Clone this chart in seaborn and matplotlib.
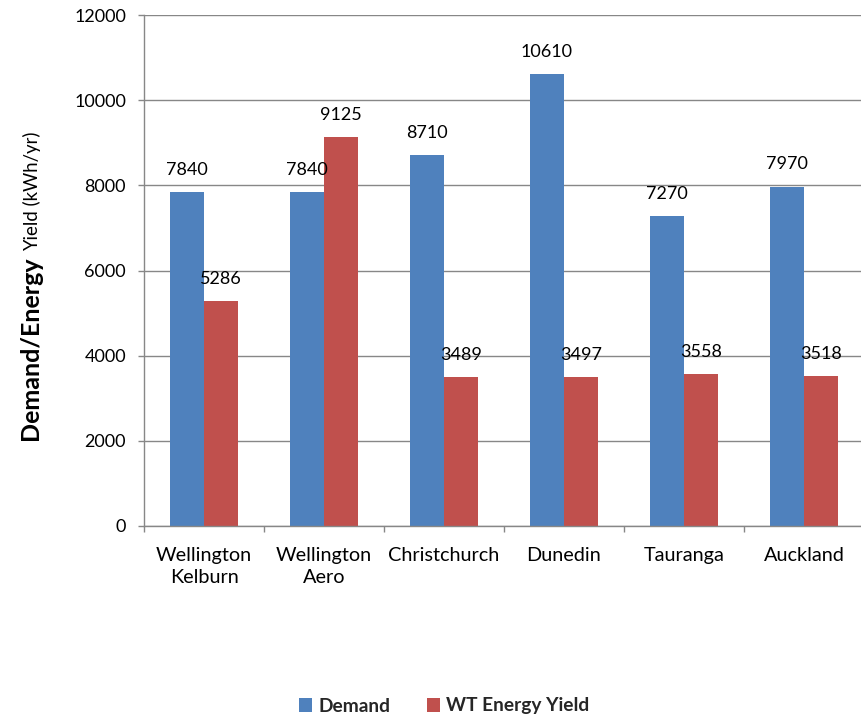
import matplotlib
matplotlib.use("Agg")
import matplotlib.pyplot as plt
import seaborn as sns
import pandas as pd
from matplotlib.patches import Patch

# Sites and annual values (kWh/yr)
sites = ["Wellington\nKelburn", "Wellington\nAero", "Christchurch", "Dunedin", "Tauranga", "Auckland"]
demand = [7840, 7840, 8710, 10610, 7270, 7970]
wt_yield = [5286, 9125, 3489, 3497, 3558, 3518]
series = ["Demand", "WT Energy Yield"]
colors = ["#4F81BD", "#C0504D"]
y_ticks = [0, 2000, 4000, 6000, 8000, 10000, 12000]

sns.set_theme(style="white")
plt.rcParams["font.family"] = ["Lato", "DejaVu Sans"]

df = pd.DataFrame({
    "site": sites * 2,
    "series": [series[0]] * len(sites) + [series[1]] * len(sites),
    "value": demand + wt_yield,
})

fig = plt.figure(figsize=(8.61, 7.18), dpi=100)
ax = fig.add_axes([144 / 861, 1 - 526 / 718, 720 / 861, 511 / 718])

sns.barplot(data=df, x="site", y="value", hue="series", order=sites,
            hue_order=series, palette=colors, width=0.567, gap=0,
            saturation=1, linewidth=0, ax=ax, legend=False, errorbar=None)

grid_c = "#878787"
ax.set_ylim(0, 12000)
ax.set_xlim(-0.5, len(sites) - 0.5)
ax.set_yticks(y_ticks)
ax.set_yticklabels([str(t) for t in y_ticks], fontsize=13, color="#000000")
ax.yaxis.grid(True, color=grid_c, linewidth=1.0)
ax.set_axisbelow(True)
for side in ["top", "right"]:
    ax.spines[side].set_visible(False)
for side in ["left", "bottom"]:
    ax.spines[side].set_color(grid_c)
    ax.spines[side].set_linewidth(1.0)

ax.tick_params(axis="y", which="major", direction="out", length=4.3, width=1.0,
               color=grid_c, pad=8.6, left=True)
ax.set_xticks(range(len(sites)))
ax.set_xticklabels(sites, fontsize=14.3, color="#000000", linespacing=1.4)
ax.tick_params(axis="x", which="major", length=0, pad=15)
ax.set_xticks([i - 0.5 for i in range(len(sites) + 1)], minor=True)
ax.tick_params(axis="x", which="minor", direction="out", length=4.3, width=1.0,
               color=grid_c, bottom=True)
ax.set_xlabel("")
ax.set_ylabel("")

# Value labels above each bar
for cont, vals in zip(ax.containers, [demand, wt_yield]):
    for patch, v in zip(cont.patches, vals):
        ax.annotate(str(v), (patch.get_x() + patch.get_width() / 2, v),
                    xytext=(0, 16), textcoords="offset points",
                    ha="center", va="center", fontsize=13, color="#000000")

# Y axis title in two styles
x_base = 38 / 861
y_start = 1 - 440 / 718
t1 = fig.text(x_base, y_start, "Demand/Energy", rotation=90, rotation_mode="anchor",
              ha="left", va="baseline", fontsize=18, fontweight="bold", color="#000000")
fig.canvas.draw()
bb = t1.get_window_extent()
y_next = (bb.y1 + 5) / fig.bbox.height
fig.text(x_base, y_next, "Yield (kWh/yr)", rotation=90, rotation_mode="anchor",
         ha="left", va="baseline", fontsize=13.4, color="#000000")

handles = [Patch(facecolor=c, edgecolor="none") for c in colors]
fig.legend(handles, series, loc="center", bbox_to_anchor=(444 / 861, 1 - 706 / 718),
           ncol=2, frameon=False, handlelength=0.7, handleheight=0.7,
           handletextpad=0.3, columnspacing=1.9,
           prop={"weight": "bold", "size": 13.8})

fig.savefig("out.png", dpi=100)
